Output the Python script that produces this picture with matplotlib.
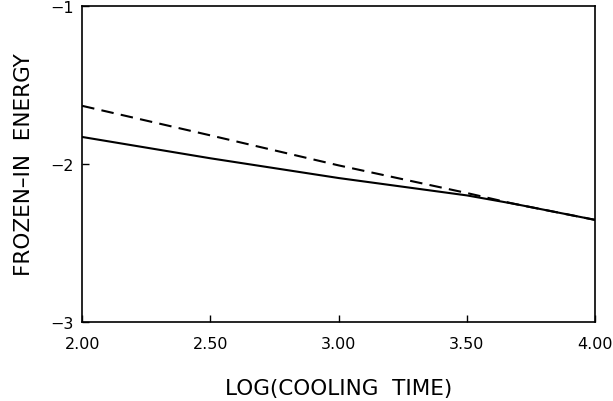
import matplotlib
matplotlib.use("Agg")
import matplotlib.pyplot as plt

# data
log_time = [2.0, 2.5, 3.0, 3.5, 3.68, 4.0]
energy_solid = [-1.83, -1.965, -2.09, -2.20, -2.252, -2.355]
energy_dashed = [-1.633, -1.82, -2.01, -2.185, -2.252, -2.355]

xticks = [2.0, 2.5, 3.0, 3.5, 4.0]
xticklabels = ["2.00", "2.50", "3.00", "3.50", "4.00"]
yticks = [-3, -2, -1]
yticklabels = ["\u22123", "\u22122", "\u22121"]

plt.rcParams["font.family"] = ["DejaVu Sans"]

fig = plt.figure(figsize=(6.13, 4.02), dpi=100)
ax = fig.add_axes([0.134, 0.197, 0.837, 0.786])

ax.plot(log_time, energy_solid, color="black", lw=1.5)
ax.plot(log_time, energy_dashed, color="black", lw=1.5, dashes=(6, 3.5))

ax.set_xlim(2.0, 4.0)
ax.set_ylim(-3, -1)
ax.set_xticks(xticks)
ax.set_xticklabels(xticklabels, fontsize=11.5)
ax.set_yticks(yticks)
ax.set_yticklabels(yticklabels, fontsize=11.5)
ax.tick_params(direction="in", length=5, width=1.0)
ax.tick_params(axis="x", pad=10)
ax.tick_params(axis="y", pad=6)
for s in ax.spines.values():
    s.set_linewidth(1.2)

ax.set_xlabel("LOG(COOLING  TIME)", fontsize=15.5, labelpad=20)
ax.set_ylabel("FROZEN\u2013IN  ENERGY", fontsize=15.5, labelpad=12)

fig.savefig("out.png", dpi=100)
